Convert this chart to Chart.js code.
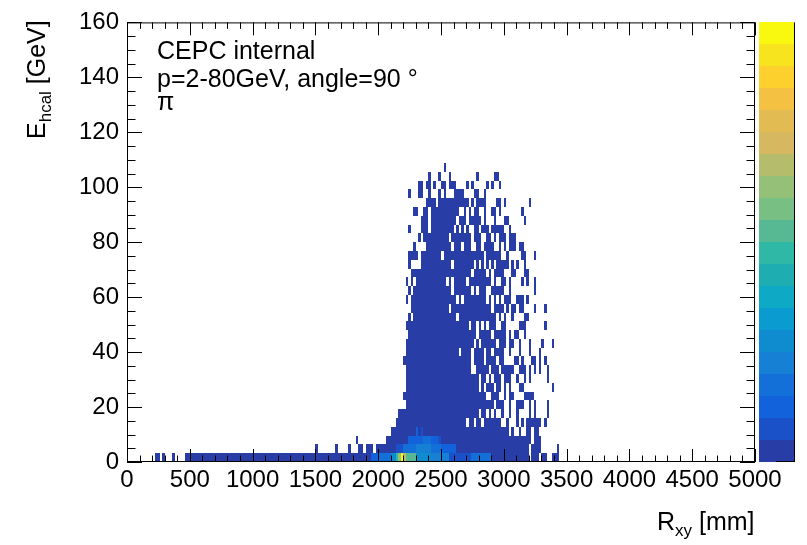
<!DOCTYPE html>
<html>
<head>
<meta charset="utf-8">
<script src="https://cdn.jsdelivr.net/npm/chart.js@4.4.1/dist/chart.umd.min.js"></script>
<style>
  html, body { margin: 0; padding: 0; background: #fff; }
  #wrap { width: 807px; height: 545px; }
</style>
</head>
<body>
<div id="wrap"><canvas id="c" width="807" height="545"></canvas></div>
<script>
// histogram binning: R_xy in 20 mm bins, E_hcal in 3.2 GeV bins
const xBinWidth = 20;
const yBinWidth = 3.2;
const baseCount = 20;   // ordinary filled bin (lowest colour)
const zMax = 1397;

// filled R bins for each E row (row 0 = 0-3.2 GeV), as [firstBin, lastBin]
const rowRuns = [
  [[11,12],[14,14],[18,18],[23,159],[161,163],[165,166],[169,171]],
  [[75,75],[83,83],[88,88],[92,93],[95,97],[99,159],[161,164],[171,171]],
  [[91,91],[103,160],[162,164]],
  [[105,151],[153,153],[156,156],[159,160],[162,163]],
  [[107,134],[136,137],[139,140],[142,148],[151,151],[155,155],[157,157],[159,164],[166,166]],
  [[108,139],[141,142],[144,144],[146,146],[149,149],[152,152],[155,155],[160,160],[162,162],[167,167]],
  [[111,145],[147,149],[152,152],[155,157],[160,160],[162,162],[167,167]],
  [[110,142],[145,147],[150,150],[152,153],[158,161]],
  [[111,139],[141,141],[143,145],[147,148],[150,150],[152,152],[156,157],[169,169]],
  [[111,139],[141,142],[144,144],[146,148],[150,152],[155,155],[158,158],[160,160],[167,167]],
  [[111,136],[139,143],[145,147],[149,153],[156,158],[160,160],[162,162],[164,164],[167,167]],
  [[110,136],[138,141],[143,146],[148,149],[154,155],[157,157],[161,162],[164,164],[166,166]],
  [[111,131],[133,136],[138,141],[143,144],[146,149],[152,152],[156,156],[160,160],[164,164]],
  [[111,137],[139,139],[141,146],[148,150],[152,153],[156,156],[160,160],[165,165],[169,169]],
  [[112,138],[140,144],[146,150],[152,152],[154,155],[158,158]],
  [[111,135],[137,138],[140,140],[142,142],[144,146],[149,150],[156,158],[166,166]],
  [[112,112],[114,130],[132,146],[148,148],[150,150],[153,153],[158,159]],
  [[113,127],[129,144],[146,149],[151,151],[153,154],[156,157],[162,162],[166,166]],
  [[111,111],[113,130],[132,132],[134,142],[144,144],[146,146],[148,148],[150,152],[155,157],[159,159]],
  [[112,112],[114,128],[130,136],[138,138],[140,142],[145,149],[152,152],[162,162]],
  [[111,111],[113,113],[115,126],[128,128],[130,134],[136,144],[146,146],[149,150],[152,152],[157,157],[159,159],[162,162]],
  [[113,136],[138,142],[144,144],[146,149],[153,154],[158,159]],
  [[112,112],[117,128],[130,137],[139,139],[141,141],[143,143],[145,145],[147,151],[153,153],[155,155],[158,158]],
  [[112,115],[117,124],[126,141],[143,148],[151,151],[157,158],[162,162]],
  [[114,114],[119,128],[130,132],[134,136],[139,140],[142,145],[148,148],[150,150],[152,154],[156,157]],
  [[116,116],[118,127],[129,136],[138,140],[143,144],[146,146],[148,150],[152,154]],
  [[112,112],[117,119],[121,129],[131,131],[133,133],[135,135],[138,139],[141,143],[145,149],[152,152]],
  [[117,119],[121,130],[132,134],[136,140],[142,142],[146,146],[150,151],[158,158]],
  [[114,115],[118,119],[121,131],[134,134],[136,136],[138,139],[142,142],[145,146],[148,148],[157,157]],
  [[119,122],[124,135],[137,137],[139,142],[147,148],[150,150],[160,160]],
  [[112,112],[116,117],[120,120],[124,124],[126,126],[130,133],[138,139],[142,142]],
  [[116,117],[119,120],[122,122],[125,126],[128,130],[135,135],[137,137],[143,143],[145,145],[148,148]],
  [[120,120],[124,124],[128,128],[139,139],[146,147]],
  [[126,126]]
];

// bins with larger counts: [firstBin, lastBin, row, count]
const hotRuns = [
  [97,99,0,180], [100,104,0,250], [105,106,0,390], [107,107,0,680], [108,108,0,880],
  [109,109,0,1390], [110,110,0,960], [111,114,0,730], [115,120,0,400], [121,127,0,330],
  [128,136,0,110], [137,144,0,260],
  [107,109,1,110], [110,114,1,250], [115,120,1,330], [121,124,1,250], [125,127,1,180], [128,130,1,200],
  [112,114,2,180], [115,117,2,190], [118,120,2,250], [121,123,2,180], [124,124,2,110],
  [115,115,3,180], [117,117,3,110]
];

// kBird-like palette, low -> high
const paletteColors = [
  '#293da6', '#1a50c8', '#1262dc', '#1370d8', '#1580d4', '#0f8ccf', '#0a9cd0', '#0ea9c4', '#1eaeb2', '#2fb8a6',
  '#57b994', '#78bf84', '#95c078', '#b5bc6b', '#d6b860', '#e3bb53', '#f4c142', '#fdd02e', '#f8e31f', '#f9f90f'
];

const counts = new Map();
rowRuns.forEach((runs, row) => {
  runs.forEach(([a, b]) => {
    for (let i = a; i <= b; i++) counts.set(i + ',' + row, baseCount);
  });
});
hotRuns.forEach(([a, b, row, n]) => {
  for (let i = a; i <= b; i++) counts.set(i + ',' + row, n);
});
const cells = [];
counts.forEach((n, key) => {
  const [i, row] = key.split(',').map(Number);
  cells.push({ x: (i + 0.5) * xBinWidth, y: (row + 0.5) * yBinWidth, z: n });
});

const FONT = '"Liberation Sans", Arial, Helvetica, sans-serif';

function colorFor(z) {
  return paletteColors[Math.min(paletteColors.length - 1, Math.floor(z / zMax * paletteColors.length))];
}

// draws each bin as a box through the x/y scales
const heatmap = {
  id: 'heatmap',
  beforeDatasetsDraw(chart) {
    const { ctx, scales: { x, y } } = chart;
    ctx.save();
    chart.data.datasets[0].data.forEach(c => {
      const x0 = Math.round(x.getPixelForValue(c.x - xBinWidth / 2));
      const x1 = Math.round(x.getPixelForValue(c.x + xBinWidth / 2));
      const y0 = Math.round(y.getPixelForValue(c.y + yBinWidth / 2));
      const y1 = Math.round(y.getPixelForValue(c.y - yBinWidth / 2));
      ctx.fillStyle = colorFor(c.z);
      ctx.fillRect(x0, y0, x1 - x0, y1 - y0);
    });
    ctx.restore();
  }
};

function drawSub(ctx, parts, x, y) {
  // parts: [text, size, dy]
  let cx = x;
  parts.forEach(([t, size, dy]) => {
    ctx.font = size + 'px ' + FONT;
    ctx.fillText(t, cx, y + dy);
    cx += ctx.measureText(t).width;
  });
}

// ROOT style frame, ticks on all sides, palette and labels
const rootFrame = {
  id: 'rootFrame',
  afterDraw(chart) {
    const { ctx, chartArea: a, scales: { x, y, z } } = chart;
    ctx.save();
    ctx.strokeStyle = '#000';
    ctx.lineWidth = 1;
    ctx.beginPath();
    // x ticks, major every 500, minor every 100
    for (let v = 0; v <= 5000; v += 100) {
      const px = Math.round(x.getPixelForValue(v)) + 0.5;
      const len = v % 500 === 0 ? 13 : 6.5;
      ctx.moveTo(px, a.bottom); ctx.lineTo(px, a.bottom - len);
      ctx.moveTo(px, a.top); ctx.lineTo(px, a.top + len);
    }
    // y ticks, major every 20, minor every 5
    for (let v = 0; v <= 160; v += 5) {
      const py = Math.round(y.getPixelForValue(v)) + 0.5;
      const len = v % 20 === 0 ? 15 : 8.5;
      ctx.moveTo(a.left, py); ctx.lineTo(a.left + len, py);
      ctx.moveTo(a.right, py); ctx.lineTo(a.right - len, py);
    }
    ctx.stroke();
    ctx.strokeRect(a.left + 0.5, a.top + 0.5, a.right - a.left - 1, a.bottom - a.top - 1);

    // colour palette
    const bx0 = a.right + 4, bx1 = a.right + 39;
    const n = paletteColors.length;
    for (let k = 0; k < n; k++) {
      const yb = Math.round(z.getPixelForValue(k * zMax / n));
      const yt = Math.round(z.getPixelForValue((k + 1) * zMax / n));
      ctx.fillStyle = paletteColors[k];
      ctx.fillRect(bx0, yt, bx1 - bx0, yb - yt);
    }
    ctx.beginPath();
    ctx.moveTo(bx1 + 0.5, a.top); ctx.lineTo(bx1 + 0.5, a.bottom);
    z.ticks.forEach(t => {
      if (t.value % 200 !== 0) return;
      const py = Math.round(z.getPixelForValue(t.value)) - 0.5;
      ctx.moveTo(bx1, py); ctx.lineTo(bx1 - 18, py);
    });
    ctx.stroke();

    // text
    ctx.fillStyle = '#000';
    ctx.textBaseline = 'alphabetic';
    ctx.textAlign = 'left';
    ctx.font = '25px ' + FONT;
    ctx.fillText('CEPC internal', 157, 59);
    ctx.fillText('p=2-80GeV, angle=90 \u00B0', 157, 87);
    ctx.fillText('\u03C0', 157, 110);

    drawSub(ctx, [['R', 25, 0], ['xy', 17, 6], [' [mm]', 25, 0]], 657, 530);

    ctx.save();
    ctx.translate(45, 139);
    ctx.rotate(-Math.PI / 2);
    drawSub(ctx, [['E', 25, 0], ['hcal', 17, 6], [' [GeV]', 25, 0]], 0, 0);
    ctx.restore();

    ctx.restore();
  }
};

new Chart(document.getElementById('c'), {
  type: 'scatter',
  data: {
    datasets: [{
      data: cells,
      pointRadius: 0,
      pointHoverRadius: 0
    }]
  },
  options: {
    responsive: false,
    animation: false,
    events: [],
    layout: {
      padding: { left: 0, right: 52, top: 15, bottom: 0 }
    },
    plugins: {
      legend: { display: false },
      tooltip: { enabled: false }
    },
    scales: {
      x: {
        type: 'linear',
        min: 0,
        max: 5000,
        grid: { display: false, drawTicks: false },
        border: { display: false },
        ticks: {
          stepSize: 500,
          autoSkip: false,
          maxRotation: 0,
          padding: 4,
          color: '#000',
          font: { family: FONT, size: 24 },
          callback: v => String(v)
        },
        afterFit(s) { s.height = 83; }
      },
      y: {
        type: 'linear',
        min: 0,
        max: 160,
        grid: { display: false, drawTicks: false },
        border: { display: false },
        ticks: {
          stepSize: 20,
          padding: 8,
          color: '#000',
          font: { family: FONT, size: 24 },
          callback: v => String(v)
        },
        afterFit(s) { s.width = 127; }
      },
      z: {
        type: 'linear',
        display: false,
        position: 'right',
        min: 0,
        max: zMax,
        ticks: { stepSize: 200 }
      }
    }
  },
  plugins: [heatmap, rootFrame]
});
</script>
</body>
</html>
